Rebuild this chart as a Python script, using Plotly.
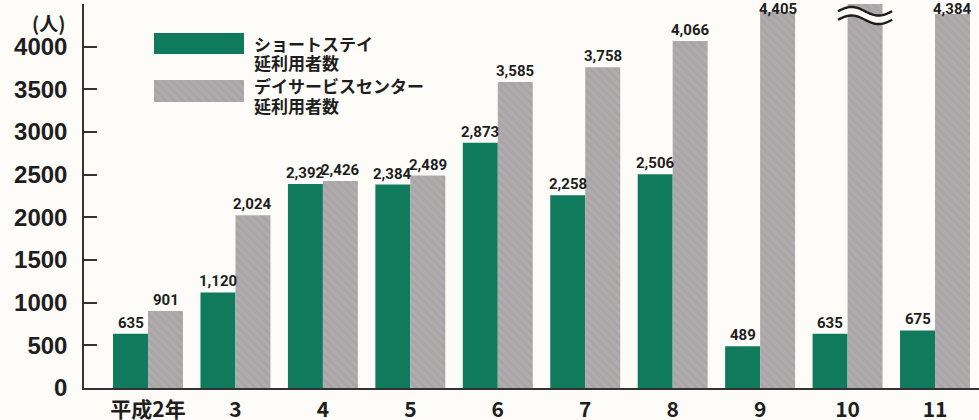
import numpy as np
import plotly.graph_objects as go

# ---- data ----
categories = ["平成2年", "3", "4", "5", "6", "7", "8", "9", "10", "11"]
short_stay = [635, 1120, 2392, 2384, 2873, 2258, 2506, 489, 635, 675]
# year 10 day-service value is off-scale (broken bar, no label printed)
day_service = [901, 2024, 2426, 2489, 3585, 3758, 4066, 4405, 4700, 4384]
day_service_labels = ["901", "2,024", "2,426", "2,489", "3,585", "3,758", "4,066", "4,405", "", "4,384"]
short_stay_labels = ["635", "1,120", "2,392", "2,384", "2,873", "2,258", "2,506", "489", "635", "675"]
y_ticks = [0, 500, 1000, 1500, 2000, 2500, 3000, 3500, 4000, 4500]
y_ticktext = ["0", "500", "1000", "1500", "2000", "2500", "3000", "3500", "4000", ""]
series_names = [["ショートステイ", "延利用者数"], ["デイサービスセンター", "延利用者数"]]
break_category = "10"

GREEN = "#0f7b5c"
GRAY_BG = "#b2aba6"
GRAY_FG = "#98a0b8"
BG = "#fdfcf8"
INK = "#1e1e1e"

Y_MAX = 4500
LABEL_CEIL = 4310  # keep value labels inside the canvas near the top

xidx = list(range(len(categories)))
label_font = dict(family="Roboto, DejaVu Sans Condensed, sans-serif",
                  size=15, color=INK, weight="bold")
gray_pattern = dict(shape="\\", fgcolor=GRAY_FG, bgcolor=GRAY_BG, size=6, solidity=0.45, fillmode="overlay")

fig = go.Figure()
fig.add_trace(go.Bar(
    x=xidx, y=short_stay, name="ショートステイ延利用者数",
    marker=dict(color=GREEN, line=dict(width=0)), showlegend=False,
))
fig.add_trace(go.Bar(
    x=xidx, y=day_service, name="デイサービスセンター延利用者数",
    marker=dict(color=GRAY_BG, line=dict(width=0), pattern=gray_pattern), showlegend=False,
))

# value labels above each bar
for off, vals, labs in ((-0.2, short_stay, short_stay_labels), (0.2, day_service, day_service_labels)):
    for i, (v, lab) in enumerate(zip(vals, labs)):
        if lab:
            fig.add_annotation(x=i + off, y=min(v, LABEL_CEIL), text=lab, showarrow=False, yanchor="bottom",
                               xanchor="center", yshift=1, font=label_font, borderpad=0)

# ---- break symbol on the off-scale bar ----
bi = categories.index(break_category) + 0.2
t = np.linspace(0, 1, 40)
half_w = 0.31
xs = bi - half_w + 2 * half_w * t
amp = 50
upper = 4415 + amp * np.sin(2 * np.pi * t)
lower = 4315 + amp * np.sin(2 * np.pi * t)

def path(xv, yv):
    return "M " + " L ".join(f"{a:.4f},{b:.1f}" for a, b in zip(xv, yv))

band = path(np.concatenate([xs, xs[::-1]]), np.concatenate([upper - 10, (lower + 10)[::-1]])) + " Z"
fig.add_shape(type="path", path=band, xref="x", yref="y", fillcolor=BG, line=dict(width=0), layer="above")
fig.add_shape(type="path", path=path(xs, upper), xref="x", yref="y", line=dict(color=INK, width=2.4), layer="above")
fig.add_shape(type="path", path=path(xs, lower), xref="x", yref="y", line=dict(color=INK, width=2.4), layer="above")

# ---- manual legend (swatches drawn as bars in small inset axes) ----
fig.add_trace(go.Bar(x=[0], y=[1], width=[1], xaxis="x2", yaxis="y2", showlegend=False, hoverinfo="skip",
                     marker=dict(color=GREEN, line=dict(width=0))))
fig.add_trace(go.Bar(x=[0], y=[1], width=[1], xaxis="x3", yaxis="y3", showlegend=False, hoverinfo="skip",
                     marker=dict(color=GRAY_BG, line=dict(width=0), pattern=gray_pattern)))
inset = dict(range=[-0.5, 0.5], visible=False, fixedrange=True)
leg_font = dict(family="Noto Sans CJK JP, sans-serif", size=17, color=INK, weight="bold")
legend_line_y = [[0.8984, 0.8464], [0.7865, 0.7344]]
for name_lines, ys in zip(series_names, legend_line_y):
    for line, yy in zip(name_lines, ys):
        fig.add_annotation(xref="paper", yref="paper", x=0.1877, y=yy, xanchor="left", yanchor="middle",
                           text=line, showarrow=False, font=leg_font)
fig.add_annotation(xref="paper", yref="paper", x=-0.040, y=0.953, xanchor="center", yanchor="middle",
                   text="<b>(人)</b>", showarrow=False,
                   font=dict(family="Noto Sans CJK JP, sans-serif", size=19, color=INK))

fig.update_layout(
    width=979, height=420,
    margin=dict(l=84, r=0, t=4, b=32, pad=0, autoexpand=False),
    paper_bgcolor=BG, plot_bgcolor=BG,
    barmode="group", bargap=0.2, bargroupgap=0.0,
    showlegend=False,
    xaxis=dict(range=[-0.732, 9.503], tickmode="array", tickvals=xidx,
               ticktext=[f"<b>{c}</b>" for c in categories], automargin=False,
               showgrid=False, zeroline=False, showline=True, linecolor="#333", linewidth=1.5,
               ticks="", tickfont=dict(family="Noto Sans CJK JP, Liberation Sans, sans-serif", size=21, color=INK),
               ticklabelstandoff=2),
    yaxis=dict(range=[0, Y_MAX], tickmode="array", tickvals=y_ticks,
               ticktext=[f"<b>{c}</b>" if c else "" for c in y_ticktext], automargin=False,
               showgrid=False, zeroline=False, showline=True, linecolor="#333", linewidth=1.5,
               ticks="inside", ticklen=13, tickwidth=1.5, tickcolor="#333",
               tickfont=dict(family="Liberation Sans, Arial, sans-serif", size=24, color=INK),
               ticklabelstandoff=10),
    xaxis2=dict(domain=[0.0782, 0.1788], anchor="y2", **inset),
    yaxis2=dict(domain=[0.870, 0.9245], anchor="x2", range=[0, 1], visible=False, fixedrange=True),
    xaxis3=dict(domain=[0.0782, 0.1788], anchor="y3", **inset),
    yaxis3=dict(domain=[0.745, 0.802], anchor="x3", range=[0, 1], visible=False, fixedrange=True),
)

fig.write_html("out.html", config={"displayModeBar": False},
               post_script="document.body.style.margin='0';document.body.style.overflow='hidden';")
